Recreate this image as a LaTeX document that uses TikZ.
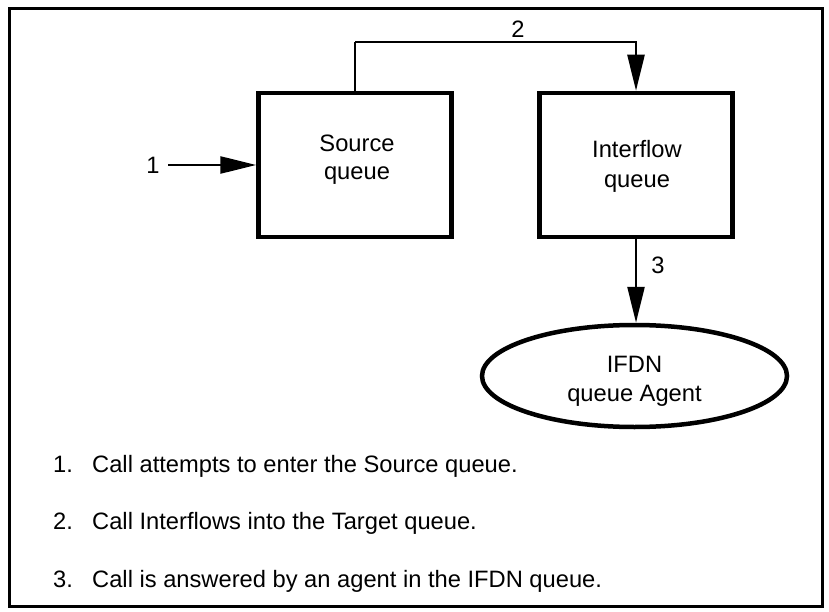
\documentclass[tikz,border=0pt]{standalone}
\usepackage{fontspec}
\setmainfont{Liberation Sans}
\usetikzlibrary{arrows.meta,shapes.geometric}
\begin{document}
\begin{tikzpicture}[x=1pt,y=-1pt,
  txt/.style={inner sep=0pt,align=center,font=\fontsize{23.7}{29}\selectfont},
  qbox/.style={draw,line width=4.5pt,minimum width=193pt,minimum height=144pt,inner sep=0pt},
  agent/.style={draw,ellipse,line width=4.5pt,minimum width=305pt,minimum height=102pt,inner sep=0pt},
  flow/.style={line width=2.5pt,-{Triangle[length=36pt,width=17pt]}},
  link/.style={line width=2.5pt}]
\useasboundingbox (0,0) rectangle (829,612);
% outer frame
\draw[line width=3pt] (9,9) rectangle (822,606);

% queues and agent
\node[qbox] (src) at (355,165) {};
\node[qbox] (ifq) at (636,165) {};
\node[agent] (ifdn) at (634.5,376) {};
\node[txt,font=\fontsize{23.7}{28}\selectfont] (srct) at (357,160) {Source\\queue};
\node[txt,font=\fontsize{23.7}{30}\selectfont] (ifqt) at (637,166) {Interflow\\queue};
\node[txt] (ifdnt) at (634.5,381.5) {IFDN\\queue Agent};

% step 1: incoming call
\coordinate (in) at (168,165);
\node[txt] (n1) at (153,165) {1};
\draw[flow] (in) -- (src.west);

% step 2: interflow
\node[txt] (n2) at (518,29) {2};
\draw[link] (src.north) -- ++(0,-48.5) coordinate (up);
\draw[flow] (up) -| (ifq.north);

% step 3: answered by agent
\node[txt] (n3) at (658,265) {3};
\draw[flow] (ifq.south) -- (ifq.south |- ifdn.north);

% legend
\node[txt,anchor=base west] (l1n) at (53,472) {1.};
\node[txt,anchor=base west] (l1) at (92,472) {Call attempts to enter the Source queue.};
\node[txt,anchor=base west] (l2n) at (53,529.5) {2.};
\node[txt,anchor=base west] (l2) at (92,529.5) {Call Interflows into the Target queue.};
\node[txt,anchor=base west] (l3n) at (53,587) {3.};
\node[txt,anchor=base west] (l3) at (92,587) {Call is answered by an agent in the IFDN queue.};
\end{tikzpicture}
\end{document}
